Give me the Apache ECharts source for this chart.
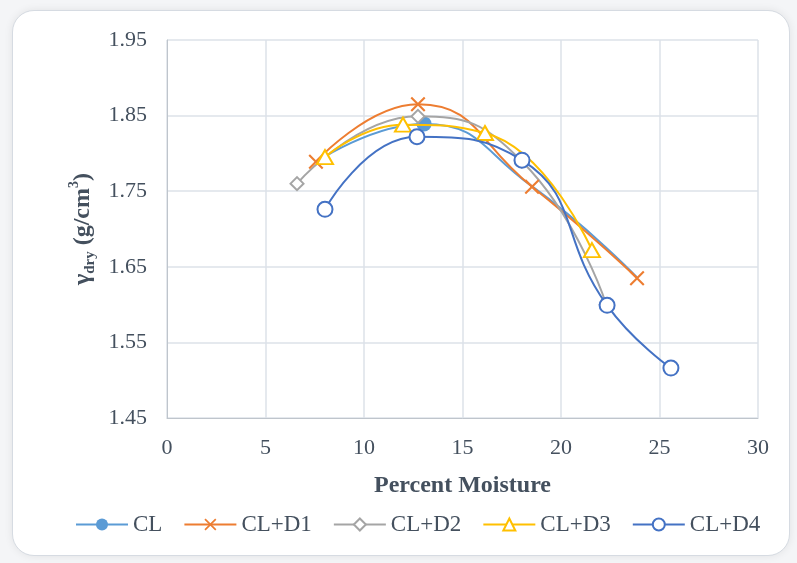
<!DOCTYPE html>
<html>
<head>
<meta charset="utf-8">
<script src="https://cdn.jsdelivr.net/npm/echarts@6/dist/echarts.min.js"></script>
<style>
  html, body { margin: 0; padding: 0; background: #f4f5f7; }
  #card {
    position: absolute; left: 12px; top: 10px; width: 778px; height: 546px;
    background: #ffffff; border: 1px solid #d6dbe2; border-radius: 22px;
    box-shadow: 0 0 8px rgba(0,0,0,0.08); box-sizing: border-box;
  }
  #chart { position: absolute; left: 0; top: 0; width: 797px; height: 563px; }
</style>
</head>
<body>
<div id="card"></div>
<div id="chart"></div>
<script>
// Compaction curves: dry unit weight vs. moisture content
const seriesNames = ['CL', 'CL+D1', 'CL+D2', 'CL+D3', 'CL+D4'];
const clMoisture = [7.6, 13.05, 18.5, 23.9];
const clDensity = [1.789, 1.839, 1.757, 1.635];
const d1Moisture = [7.56, 12.74, 18.53, 23.86];
const d1Density = [1.789, 1.865, 1.756, 1.635];
const d2Moisture = [6.6, 12.74, 18.0, 22.3];
const d2Density = [1.760, 1.849, 1.790, 1.600];
const d3Moisture = [8.02, 11.98, 16.14, 21.57];
const d3Density = [1.795, 1.838, 1.827, 1.672];
const d4Moisture = [8.02, 12.69, 18.02, 22.34, 25.58];
const d4Density = [1.726, 1.822, 1.791, 1.599, 1.516];
// CL markers that show (others sit under the CL+D1 crosses)
const clMarkerShown = [false, true, false, false];

const colors = ['#5B9BD5', '#ED7D31', '#A5A5A5', '#FFC000', '#4472C4'];
const textColor = '#44505e';
const serif = '"Liberation Serif", "Times New Roman", serif';
const crossPath = 'path://M2,0L10,8L18,0L20,2L12,10L20,18L18,20L10,12L2,20L0,18L8,10L0,2Z';

function pairs(xs, ys) { return xs.map((x, i) => [x, ys[i]]); }

const chart = echarts.init(document.getElementById('chart'));
function lineSeries(i, extra) {
  return Object.assign({
    type: 'line', name: seriesNames[i], smooth: 0.5, symbolSize: 15,
    lineStyle: { width: 2, color: colors[i] },
    itemStyle: { color: '#ffffff', borderColor: colors[i], borderWidth: 2 }
  }, extra);
}

chart.setOption({
  animation: false,
  textStyle: { fontFamily: serif },
  grid: { left: 167, right: 39, top: 40, bottom: 145 },
  xAxis: {
    type: 'value', min: 0, max: 30, interval: 5,
    name: 'Percent Moisture', nameLocation: 'middle', nameGap: 56,
    nameTextStyle: { fontFamily: serif, fontWeight: 'bold', fontSize: 24, color: textColor },
    axisLine: { lineStyle: { color: '#bfc5cc' } },
    axisTick: { show: false },
    axisLabel: { fontFamily: serif, fontSize: 22, color: textColor, margin: 19 },
    splitLine: { lineStyle: { color: '#dde2e9', width: 1.5 } }
  },
  yAxis: {
    type: 'value', min: 1.45, max: 1.95, interval: 0.1,
    name: '{g|γ}{sub|dry}{g| (g/cm}{sup|3}{g|)}', nameLocation: 'middle', nameGap: 62, nameRotate: 90,
    nameTextStyle: {
      fontFamily: serif, fontWeight: 'bold', fontSize: 24, color: textColor,
      rich: {
        g: { fontFamily: serif, fontWeight: 'bold', fontSize: 24, color: textColor, lineHeight: 30, verticalAlign: 'middle' },
        sub: { fontFamily: serif, fontWeight: 'bold', fontSize: 15, color: textColor, lineHeight: 30, verticalAlign: 'bottom' },
        sup: { fontFamily: serif, fontWeight: 'bold', fontSize: 14, color: textColor, lineHeight: 30, verticalAlign: 'top' }
      }
    },
    axisLine: { show: true, lineStyle: { color: '#bfc5cc' } },
    axisTick: { show: false },
    axisLabel: { fontFamily: serif, fontSize: 22, color: textColor, margin: 20, formatter: v => v.toFixed(2) },
    splitLine: { lineStyle: { color: '#dde2e9', width: 1.5 } }
  },
  legend: {
    top: 508, left: 70, itemWidth: 52, itemHeight: 15, itemGap: 21,
    textStyle: { fontFamily: serif, fontSize: 23, color: textColor },
    data: seriesNames
  },
  series: [
    lineSeries(0, {
      symbol: 'circle', z: 2, itemStyle: { color: colors[0] },
      data: pairs(clMoisture, clDensity).map((p, i) => ({ value: p, symbol: clMarkerShown[i] ? 'circle' : 'none' }))
    }),
    lineSeries(1, {
      symbol: crossPath, symbolSize: 15, z: 3, itemStyle: { color: colors[1] },
      data: pairs(d1Moisture, d1Density)
    }),
    lineSeries(2, {
      symbol: 'diamond', symbolSize: [13, 13], z: 3,
      data: pairs(d2Moisture, d2Density)
    }),
    lineSeries(3, {
      symbol: 'triangle', symbolSize: [16, 14], z: 4,
      data: pairs(d3Moisture, d3Density)
    }),
    lineSeries(4, {
      symbol: 'circle', symbolSize: 15, z: 5,
      data: pairs(d4Moisture, d4Density)
    })
  ]
});
</script>
</body>
</html>
